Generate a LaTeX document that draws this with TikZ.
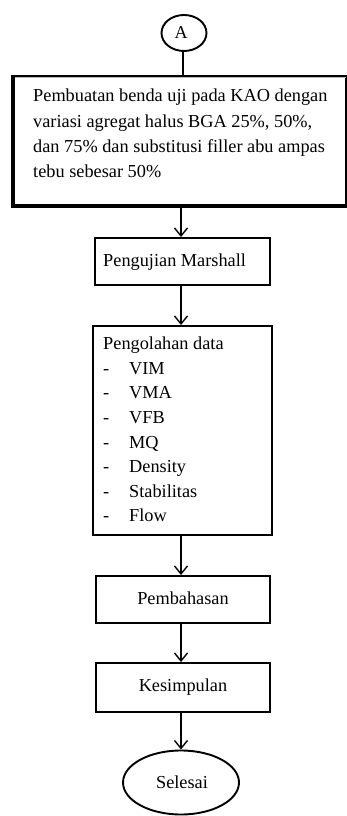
\documentclass[tikz,border=0pt]{standalone}
\usepackage{fontspec}
\setmainfont{Liberation Serif}
\usetikzlibrary{arrows.meta,shapes.geometric}
\newcommand\lstdash{\makebox[26pt][l]{-}}
\begin{document}
\begin{tikzpicture}[x=1pt,y=-1pt,
  box/.style={draw,line width=1.9pt,rectangle,inner sep=0pt,anchor=center},
  oval/.style={draw,line width=1.9pt,ellipse,inner sep=0pt,anchor=center},
  txt/.style={inner sep=0pt,font=\fontsize{18.3}{25.3}\selectfont,align=left},
  txtB/.style={inner sep=0pt,font=\fontsize{18.3}{24.6}\selectfont,align=left},
  conn/.style={line width=1.4pt},
  arr/.style={line width=1.4pt,-{Straight Barb[length=8pt,width=13pt,line width=1.4pt]}},
]
\useasboundingbox (0,0) rectangle (347,816);
\fill[white] (0,0) rectangle (347,816);
\coordinate (ax) at (181,0);

% connector A
\node[oval,minimum width=45pt,minimum height=36pt] (A) at (184,33) {};
\node[inner sep=0pt,font=\fontsize{18}{20}\selectfont,anchor=base] (At) at (181,38) {A};

% box 1
\node[box,minimum width=332pt,minimum height=129pt] (b1) at (180,140.5) {};
\draw[line width=3.2pt] (b1.north west) -- (b1.south west) -- (b1.south east);
\draw[gray!55,line width=1.2pt] ([xshift=2pt,yshift=-2.8pt]b1.north west) -- ([xshift=-1pt,yshift=-2.8pt]b1.north east);
\node[txt,anchor=north west] (b1t) at (33,89) {Pembuatan benda uji pada KAO dengan\\variasi agregat halus BGA 25\%, 50\%,\\dan 75\% dan substitusi filler abu ampas\\tebu sebesar 50\%};

% box 2
\node[box,minimum width=175pt,minimum height=47pt] (b2) at (182.5,261.5) {};
\node[txt,anchor=base west] (b2t) at (103,266) {Pengujian Marshall};

% box 3
\node[box,minimum width=179pt,minimum height=209pt] (b3) at (182.5,430.5) {};
\node[txtB,anchor=north west] (b3t) at (103,336.7) {Pengolahan data\\\lstdash VIM\\\lstdash VMA\\\lstdash VFB\\\lstdash MQ\\\lstdash Density\\\lstdash Stabilitas\\\lstdash Flow};

% box 4
\node[box,minimum width=174pt,minimum height=47pt] (b4) at (183,599.5) {};
\node[txt,anchor=base] (b4t) at (183,604) {Pembahasan};

% box 5
\node[box,minimum width=174pt,minimum height=49pt] (b5) at (183,687.5) {};
\node[txt,anchor=base] (b5t) at (183,691) {Kesimpulan};

% end
\node[oval,minimum width=116pt,minimum height=64pt] (end) at (181,782.5) {};
\node[txt,anchor=base] (endt) at (182,788) {Selesai};

% connectors
\draw[conn] (A.south -| 183,0) -- (b1.north -| 183,0);
\draw[arr] (b1.south -| ax) -- (b2.north -| ax);
\draw[arr] (b2.south -| ax) -- (b3.north -| ax);
\draw[arr] (b3.south -| ax) -- (b4.north -| ax);
\draw[arr] (b4.south -| ax) -- (b5.north -| ax);
\draw[arr] (b5.south -| ax) -- (end.north -| ax);
\end{tikzpicture}
\end{document}
